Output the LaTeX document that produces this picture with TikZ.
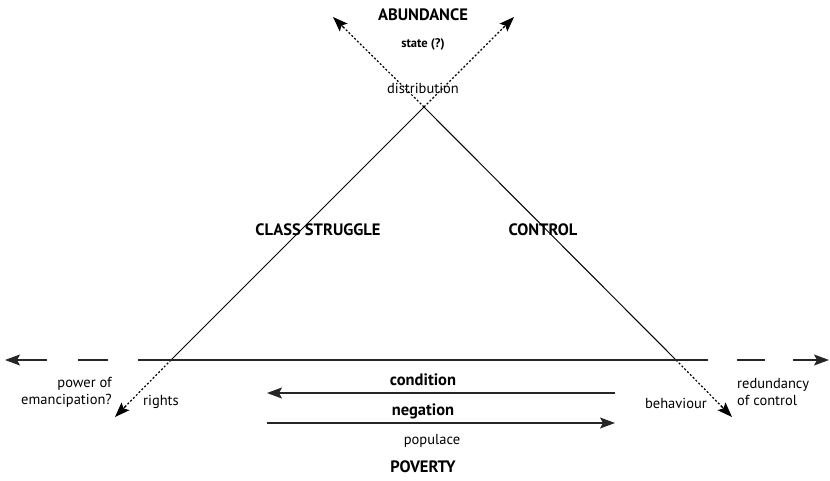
\documentclass[tikz,border=0pt]{standalone}
\usepackage{fontspec}
\setmainfont{PT Sans}
\usetikzlibrary{arrows.meta,calc}
\begin{document}
\begin{tikzpicture}[x=1pt,y=-1pt,
  tip/.style={-{Stealth[length=15pt,width=11pt,inset=3pt]}},
  side/.style={line width=1pt,black},
  dotline/.style={line width=1.2pt,black,dash pattern=on 2pt off 2pt},
  solidtip/.style={line width=1pt,black,solid,tip},
  axis/.style={line width=1.2pt,black!85},
  big/.style={font=\fontsize{16.5}{18}\selectfont\bfseries},
  small/.style={font=\fontsize{14.5}{17}\selectfont},
  smallb/.style={font=\fontsize{12.5}{14}\selectfont\bfseries},
  lbl/.style={inner sep=0pt}]
\useasboundingbox (0,0) rectangle (830,481);

% triangle corners and arrow ends
\coordinate (apex) at (424,107);
\coordinate (lb) at (171,360);
\coordinate (rb) at (676,360);
\coordinate (ul) at (333,17);
\coordinate (ur) at (514,17);
\coordinate (ll) at (115,417);
\coordinate (lr) at (732,417);

% horizontal axis pieces
\coordinate (hL0) at (47,360);  \coordinate (hLtip) at (5,360);
\coordinate (hL1) at (78,360);  \coordinate (hL2) at (108,360);
\coordinate (hM0) at (138,360); \coordinate (hM1) at (708,360);
\coordinate (hR1) at (737,360); \coordinate (hR2) at (765,360);
\coordinate (hR0) at (793,360); \coordinate (hRtip) at (829,360);

% condition / negation arrows
\coordinate (c0) at (615,393); \coordinate (c1) at (267,393);
\coordinate (n0) at (267,423); \coordinate (n1) at (615,423);

% triangle sides
\draw[side] (lb) -- (apex) -- (rb);
% dotted extensions, each ending in a solid tip
\foreach \a/\b in {apex/ul, apex/ur, lb/ll, rb/lr}{
  \draw[dotline] (\a) -- ($(\b)!6pt!(\a)$);
  \draw[solidtip] ($(\b)!16pt!(\a)$) -- (\b);
}

% horizontal line
\draw[axis,tip] (hL0) -- (hLtip);
\draw[axis] (hL1) -- (hL2);
\draw[axis] (hM0) -- (hM1);
\draw[axis] (hR1) -- (hR2);
\draw[axis,tip] (hR0) -- (hRtip);

% bottom arrows
\draw[axis,tip] (c0) -- (c1);
\draw[axis,tip] (n0) -- (n1);

% labels
\node[big,lbl] (abund) at (423,15) {ABUNDANCE};
\node[smallb,lbl] (state) at (423,44) {state (?)};
\node[small,lbl] (distr) at (423,88) {distribution};
\node[big,lbl] (cs) at (318,230) {CLASS STRUGGLE};
\node[big,lbl] (ctrl) at (543,230) {CONTROL};
\node[small,lbl,anchor=east,align=right] (power) at (112,392) {power of\\emancipation?};
\node[small,lbl,anchor=west] (rights) at (143,402) {rights};
\node[small,lbl,anchor=east] (behav) at (707,403) {behaviour};
\node[small,lbl,anchor=west,align=left] (redund) at (737,392) {redundancy\\of control};
\node[big,lbl] (cond) at (423,380) {condition};
\node[big,lbl] (neg) at (423,411) {negation};
\node[small,lbl] (pop) at (432,441) {populace};
\node[big,lbl] (pov) at (423,467) {POVERTY};
\end{tikzpicture}
\end{document}
